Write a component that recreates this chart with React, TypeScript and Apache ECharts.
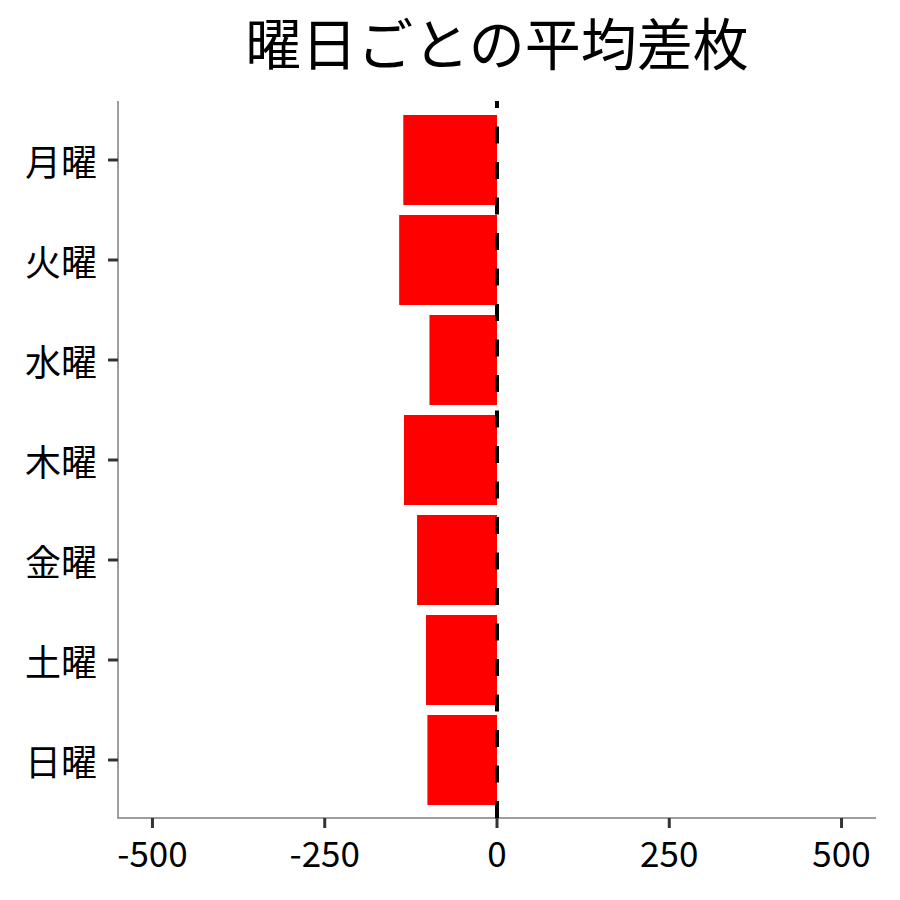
import React, { useEffect, useRef } from 'react';
import * as echarts from 'echarts';

// weekday labels, top to bottom
const days = ['月曜', '火曜', '水曜', '木曜', '金曜', '土曜', '日曜'];
// average difference per weekday
const avgDiff = [-136, -142, -98, -135, -116, -103, -101];
// x axis ticks
const xTicks = [-500, -250, 0, 250, 500];
// panel range incl. expansion
const xMin = -550;
const xMax = 550;

const FONT = '"Noto Sans CJK JP", "Noto Sans", sans-serif';
const AXIS_GREY = '#7f7f7f';
const TICK_COLOR = '#333';
const TICK_LEN = 10;

// panel box (pixels)
const PANEL = { left: 118, right: 876, top: 101, bottom: 818 };

const App: React.FC = () => {
  const chartRef = useRef<HTMLDivElement>(null);

  useEffect(() => {
    document.body.style.margin = '0';
    if (!chartRef.current) return;
    const chart = echarts.init(chartRef.current, undefined, { renderer: 'svg' });

    const option: any = {
      animation: false,
      backgroundColor: '#fff',
      title: {
        text: '曜日ごとの平均差枚',
        left: 492,
        top: 7,
        textAlign: 'center',
        textStyle: {
          fontFamily: FONT,
          fontSize: 56,
          fontWeight: 'normal',
          color: '#000',
        },
      },
      grid: [
        // bars: category bands only (panel minus discrete padding)
        { left: 118, right: 24, top: 110, bottom: 90 },
        // x labels (-500..500 inside the expanded panel)
        { left: 152.5, right: 58.5, top: 101, bottom: 82 },
      ],
      xAxis: [
        {
          gridIndex: 0,
          type: 'value',
          min: xMin,
          max: xMax,
          show: false,
        },
        {
          gridIndex: 1,
          type: 'value',
          min: xTicks[0],
          max: xTicks[xTicks.length - 1],
          interval: xTicks[1] - xTicks[0],
          axisLine: { show: false, onZero: false },
          axisTick: { show: false },
          axisLabel: {
            show: true,
            fontFamily: FONT,
            fontSize: 35,
            color: '#000',
            margin: 16,
          },
          splitLine: { show: false },
        },
      ],
      yAxis: [
        {
          gridIndex: 0,
          type: 'category',
          data: days,
          inverse: true,
          axisLine: { show: false, onZero: false },
          axisTick: { show: false },
          axisLabel: {
            show: true,
            fontFamily: FONT,
            fontSize: 36,
            color: '#000',
            margin: 21,
          },
          splitLine: { show: false },
        },
        {
          gridIndex: 1,
          type: 'value',
          min: 0,
          max: 1,
          show: false,
        },
      ],
      series: [
        {
          type: 'bar',
          xAxisIndex: 0,
          yAxisIndex: 0,
          data: avgDiff,
          barCategoryGap: '10%',
          itemStyle: { color: '#ff0000' },
          silent: true,
        },
      ],
    };

    chart.setOption(option);

    // ticks, axis lines and the zero line, placed through the chart's own scales
    const tickStyle = { stroke: TICK_COLOR, lineWidth: 3 };
    const xTickMarks = xTicks.map((v) => {
      const x = chart.convertToPixel({ xAxisIndex: 0 }, v) as number;
      return {
        type: 'line',
        silent: true,
        z: 3,
        shape: { x1: x, y1: PANEL.bottom, x2: x, y2: PANEL.bottom + TICK_LEN },
        style: tickStyle,
      };
    });
    const yTickMarks = days.map((d) => {
      const y = chart.convertToPixel({ yAxisIndex: 0 }, d) as number;
      return {
        type: 'line',
        silent: true,
        z: 3,
        shape: { x1: PANEL.left - TICK_LEN, y1: y, x2: PANEL.left, y2: y },
        style: tickStyle,
      };
    });
    const zeroX = chart.convertToPixel({ xAxisIndex: 0 }, 0) as number;

    chart.setOption({
      graphic: [
        {
          type: 'polyline',
          silent: true,
          z: 2,
          shape: {
            points: [
              [PANEL.left, PANEL.top],
              [PANEL.left, PANEL.bottom],
              [PANEL.right, PANEL.bottom],
            ],
          },
          style: { stroke: AXIS_GREY, lineWidth: 1.5, fill: 'none' },
        },
        ...xTickMarks,
        ...yTickMarks,
        {
          type: 'line',
          silent: true,
          z: 10,
          shape: { x1: zeroX, y1: PANEL.bottom, x2: zeroX, y2: PANEL.top },
          style: { stroke: '#000', lineWidth: 4, lineDash: [17, 18.5] },
        },
      ],
    });

    return () => {
      chart.dispose();
    };
  }, []);

  return <div ref={chartRef} style={{ width: 900, height: 900 }} />;
};

export default App;
